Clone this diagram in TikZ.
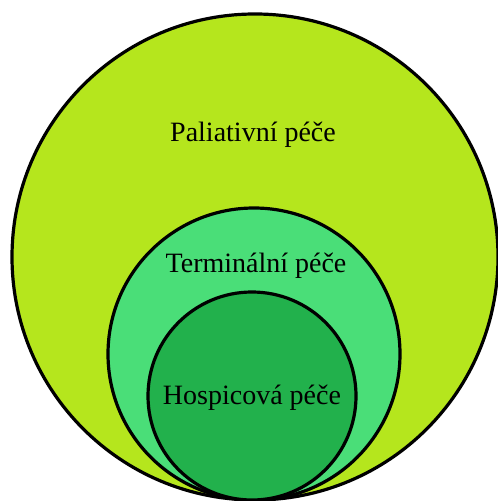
\documentclass[tikz,border=0pt]{standalone}
\usepackage{fontspec}
\setmainfont{Liberation Serif}
\usepackage{xcolor}
\usepackage{tikz}
\usetikzlibrary{positioning}

\definecolor{paliative}{RGB}{181,230,29}
\definecolor{terminal}{RGB}{74,222,120}
\definecolor{hospice}{RGB}{34,177,76}

\begin{document}
\begin{tikzpicture}[
    x=0.5pt, y=-0.5pt,
    ring/.style={circle, draw=black, line width=1.6pt, fill=#1, inner sep=0pt},
    caption/.style={font=\fontsize{14}{17}\selectfont, text=black}
]
    \useasboundingbox (0,0) rectangle (497,501);

    % Circles
    \node[ring=paliative, minimum size=243pt] (pal) at (255,257) {};
    \node[ring=terminal, minimum size=146pt] (term) at (254,354) {};
    \node[ring=hospice, minimum size=104pt] (hosp) at (252,396) {};

    % Labels
    \node[caption] (palL) at (253,135) {Paliativní péče};
    \node[caption] (termL) at (256,266) {Terminální péče};
    \node[caption] (hospL) at (252,398) {Hospicová péče};
\end{tikzpicture}
\end{document}
